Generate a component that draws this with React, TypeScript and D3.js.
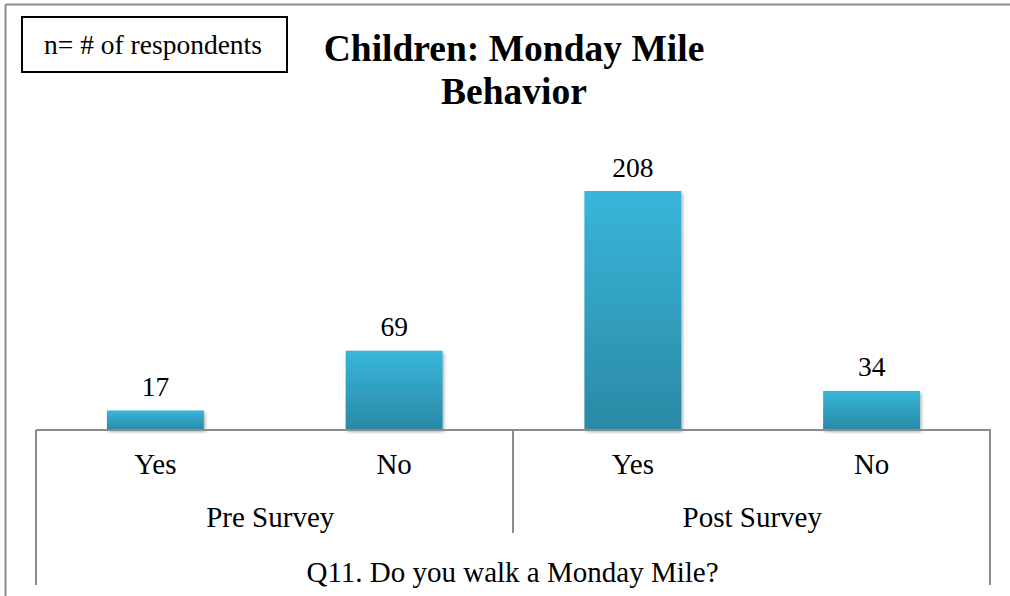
import React from "react";
import * as d3 from "d3";

const categories = ["Yes", "No", "Yes", "No"];
const groups = ["Pre Survey", "Post Survey"];
const values = [17, 69, 208, 34];
const axisTitle = "Q11. Do you walk a Monday Mile?";
const titleLines = ["Children: Monday Mile", "Behavior"];
const noteText = "n= # of respondents";

export default function App() {
  const W = 1010, H = 596;
  const left = 36, right = 991, base = 430;
  const x = d3.scaleBand<number>().domain(d3.range(values.length)).range([left, right]).paddingInner(0.594).paddingOuter(0.297);
  const y = d3.scaleLinear().domain([0, 208]).range([base, 191]);
  const step = (right - left) / values.length;
  const font = "'Liberation Serif', 'Times New Roman', serif";
  return (
    <svg width={W} height={H} style={{ position: "absolute", left: 0, top: 0 }} fontFamily={font}>
      <defs>
        <linearGradient id="barGrad" x1="0" y1="0" x2="0" y2="1">
          <stop offset="0%" stopColor="#38b6da" />
          <stop offset="100%" stopColor="#2a89a5" />
        </linearGradient>
        <filter id="sh" x="-10%" y="-10%" width="130%" height="130%">
          <feDropShadow dx="1.5" dy="2" stdDeviation="1.5" floodColor="#000" floodOpacity="0.3" />
        </filter>
      </defs>
      <rect x={0} y={0} width={W} height={H} fill="#fff" />
      <line x1={5.5} y1={4.5} x2={W} y2={4.5} stroke="#8c8c8c" strokeWidth={2} />
      <line x1={5.5} y1={4.5} x2={5.5} y2={H} stroke="#8c8c8c" strokeWidth={2} />
      <rect x={22} y={17} width={265} height={55} fill="#fff" stroke="#000" strokeWidth={2} />
      <text x={153} y={54} textAnchor="middle" fontSize={27.5}>{noteText}</text>
      {titleLines.map((t, i) => (
        <text key={i} x={514} y={61 + i * 43} textAnchor="middle" fontSize={37.5} fontWeight="bold">{t}</text>
      ))}
      {values.map((v, i) => (
        <g key={i}>
          <rect x={x(i)} y={y(v)} width={x.bandwidth()} height={base - y(v)} fill="url(#barGrad)" filter="url(#sh)" />
          <text x={x(i)! + x.bandwidth() / 2} y={y(v) - 14.5} textAnchor="middle" fontSize={27.5}>{v}</text>
          <text x={left + step * (i + 0.5)} y={474} textAnchor="middle" fontSize={29}>{categories[i]}</text>
        </g>
      ))}
      <line x1={left} y1={base} x2={right} y2={base} stroke="#8c8c8c" strokeWidth={2} />
      <line x1={left} y1={base} x2={left} y2={585} stroke="#8c8c8c" strokeWidth={2} />
      <line x1={right - 1} y1={base} x2={right - 1} y2={585} stroke="#8c8c8c" strokeWidth={2} />
      <line x1={513} y1={base} x2={513} y2={533} stroke="#8c8c8c" strokeWidth={2} />
      {groups.map((g, i) => (
        <text key={g} x={left + step * (i * 2 + 1) - (i === 0 ? 4.5 : 0)} y={527} textAnchor="middle" fontSize={29}>{g}</text>
      ))}
      <text x={(left + right) / 2 - 1} y={582} textAnchor="middle" fontSize={29}>{axisTitle}</text>
    </svg>
  );
}
